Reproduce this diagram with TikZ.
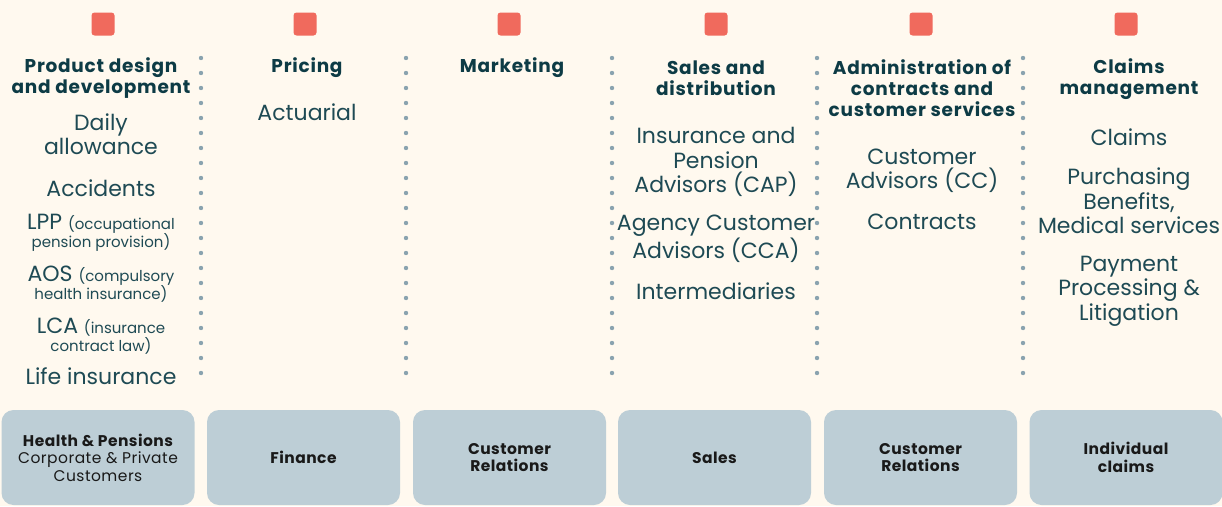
\documentclass[tikz,border=0pt]{standalone}
\usepackage{fontspec}
\setmainfont{Poppins}
\definecolor{bgc}{HTML}{FFF9EF}
\definecolor{tagc}{HTML}{F06A5D}
\definecolor{headc}{HTML}{0D3B45}
\definecolor{itemc}{HTML}{1E4A54}
\definecolor{dotc}{HTML}{8AA3AF}
\definecolor{boxc}{HTML}{BDCED6}
\newcommand{\paren}[1]{{\fontsize{15}{17}\selectfont #1}}
\tikzset{
  tag/.style={draw=none,fill=tagc,rounded corners=3pt,minimum size=23pt,inner sep=0pt},
  head/.style={draw=none,align=center,text=headc,inner sep=0pt,
    font=\bfseries\fontsize{18.5}{21}\selectfont\addfontfeatures{LetterSpace=4}},
  item/.style={draw=none,align=center,text=itemc,inner sep=0pt,font=\fontsize{22}{24.5}\selectfont},
  itemx/.style={item,font=\fontsize{22}{18}\selectfont},
  sep/.style={dotc,line width=4.4pt,line cap=round,dash pattern=on 0pt off 15pt},
  unit/.style={fill=boxc,rounded corners=12pt,minimum width=193pt,minimum height=95pt,
    align=center,text=black!90,inner sep=0pt,font=\fontsize{15.5}{17.5}\selectfont\addfontfeatures{LetterSpace=3}},
  bunit/.style={unit,font=\bfseries\fontsize{15.5}{17.5}\selectfont\addfontfeatures{LetterSpace=3}}
}
\begin{document}
\begin{tikzpicture}[x=1pt,y=-1pt]
    \useasboundingbox[fill=bgc] (0,0) rectangle (1222,506);

    % markers on top
    \node[tag](t1)at(103,24){};
    \node[tag](t2)at(305,24){};
    \node[tag](t3)at(509,24){};
    \node[tag](t4)at(716,24){};
    \node[tag](t5)at(921,24){};
    \node[tag](t6)at(1126,24){};

    % dotted separators
    \draw[sep] (201,58) -- (201,385);
    \draw[sep] (406,58) -- (406,385);
    \draw[sep] (612,58) -- (612,385);
    \draw[sep] (817,58) -- (817,385);
    \draw[sep] (1023,58) -- (1023,385);

    % column titles
    \node[head](h1)at(101,78){Product design\\and development};
    \node[head](h2)at(307,68){Pricing};
    \node[head](h3)at(512,68){Marketing};
    \node[head](h4)at(716,78){Sales and\\distribution};
    \node[head](h5)at(922,88){Administration of\\contracts and\\customer services};
    \node[head](h6)at(1129,79){Claims\\management};

    % product design
    \node[item](daily)at(101,134){Daily\\allowance};
    \node[item](acc)at(101,188){Accidents};
    \node[itemx](lpp)at(101,233){LPP \paren{(occupational}\\\paren{pension provision)}};
    \node[itemx](aos)at(101,284){AOS \paren{(compulsory}\\\paren{health insurance)}};
    \node[itemx](lca)at(101,336){LCA \paren{(insurance}\\\paren{contract law)}};
    \node[item](life)at(101,376){Life insurance};

    % pricing
    \node[item](act)at(307,112){Actuarial};

    % sales and distribution
    \node[item](cap)at(716,162){Insurance and\\Pension\\Advisors (CAP)};
    \node[item](cca)at(716,239){Agency Customer\\Advisors (CCA)};
    \node[item](inter)at(716,291){Intermediaries};

    % administration
    \node[item](cc)at(922,171){Customer\\Advisors (CC)};
    \node[item](contr)at(922,222){Contracts};

    % claims management
    \node[item](clm)at(1129,137){Claims};
    \node[item](purch)at(1129,201){Purchasing\\Benefits,\\Medical services};
    \node[item](pay)at(1129,291){Payment\\Processing \&\\Litigation};

    % units
    \node[unit](u1)at(98,457.5){{\bfseries Health \& Pensions}\\Corporate \& Private\\Customers};
    \node[bunit](u2)at(303.5,457.5){Finance};
    \node[bunit](u3)at(509.5,457.5){Customer\\Relations};
    \node[bunit](u4)at(714.5,457.5){Sales};
    \node[bunit](u5)at(920.5,457.5){Customer\\Relations};
    \node[bunit](u6)at(1126,457.5){Individual\\claims};
\end{tikzpicture}
\end{document}
